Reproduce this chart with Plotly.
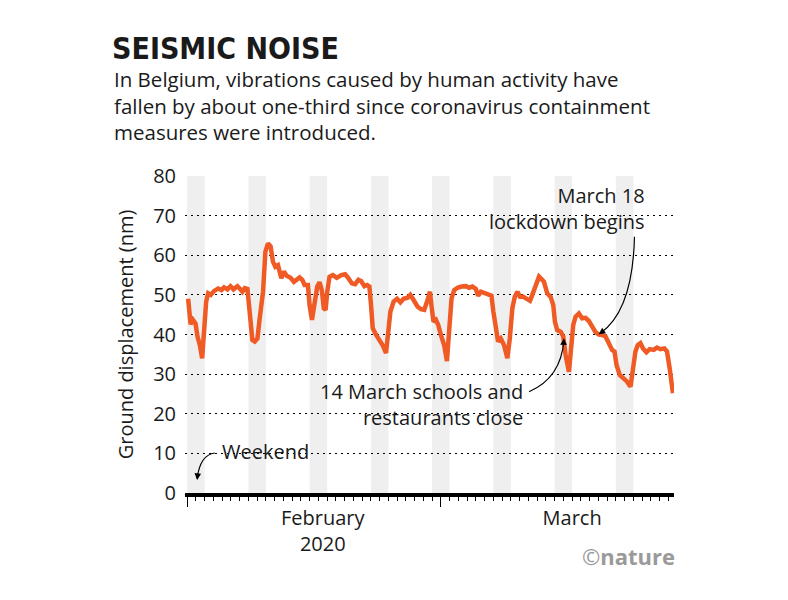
import plotly.graph_objects as go

# days since 1 February 2020
days = [0.11, 0.39, 0.65, 0.95, 1.18, 1.45, 1.71, 1.9, 2.17, 2.4, 2.7, 3.08, 3.54, 3.92, 4.22, 4.6, 4.95,
        5.29, 5.74, 6.05, 6.31, 6.58, 6.89, 7.07, 7.26, 7.45, 7.72, 8.03, 8.29, 8.67, 8.94, 9.24, 9.54,
        9.8, 10.08, 10.38, 10.76, 11.06, 11.37, 11.82, 12.2, 12.51, 12.85, 13.16, 13.42, 13.8, 13.99,
        14.26, 14.56, 14.87, 15.13, 15.39, 15.62, 15.82, 16.01, 16.27, 16.65, 17.1, 17.61, 18.06, 18.44,
        18.82, 19.2, 19.58, 19.88, 20.26, 20.57, 20.83, 21.02, 21.21, 21.6, 21.97, 22.35, 22.73, 22.92,
        23.23, 23.6, 23.99, 24.37, 24.74, 25.2, 25.51, 25.88, 26.34, 26.73, 27.1, 27.48, 27.75, 27.94,
        28.16, 28.44, 28.7, 29.0, 29.38, 29.69, 29.95, 30.22, 30.52, 30.9, 31.36, 31.86, 32.23, 32.61,
        33.0, 33.26, 33.57, 33.95, 34.33, 34.78, 35.0, 35.28, 35.54, 35.85, 36.23, 36.6, 36.88, 37.17,
        37.45, 37.75, 38.05, 38.43, 38.81, 39.19, 39.45, 39.84, 40.22, 40.59, 40.79, 41.16, 41.55, 41.85,
        42.04, 42.3, 42.69, 42.99, 43.26, 43.64, 43.9, 44.13, 44.4, 44.78, 45.15, 45.54, 45.92, 46.3,
        46.68, 47.06, 47.43, 47.82, 48.2, 48.58, 48.85, 49.08, 49.45, 49.91, 50.29, 50.68, 50.97, 51.24,
        51.5, 51.81, 52.11, 52.5, 52.87, 53.33, 53.71, 54.09, 54.55, 54.85, 55.15, 55.53]

displacement = [49.0, 42.6, 43.7, 42.8, 39.5, 37.3, 34.0, 39.9, 48.3, 50.4, 50.0, 51.0, 51.6, 51.2, 51.9, 51.4, 52.2,
                51.4, 52.2, 51.5, 50.8, 51.7, 51.5, 47.4, 42.4, 38.6, 38.2, 39.0, 44.1, 50.8, 60.9, 63.0, 62.2,
                58.4, 57.1, 57.5, 54.2, 55.9, 54.8, 54.3, 53.3, 54.0, 54.4, 53.8, 52.5, 52.5, 47.4,
                43.7, 48.7, 52.1, 53.2, 51.2, 46.6, 46.2, 50.8, 54.6, 55.0, 54.3, 55.0, 55.2, 54.2,
                52.9, 52.7, 53.8, 53.5, 52.2, 52.5, 52.1, 47.4, 41.6, 39.9, 38.6, 37.3, 35.3, 39.9,
                45.8, 48.3, 49.0, 48.1, 49.0, 49.3, 50.0, 48.7, 47.0, 46.4, 46.2, 48.7, 50.8, 47.0,
                43.2, 43.7, 42.4, 39.9, 37.3, 33.3, 39.9, 49.1, 51.2, 51.8, 52.1, 52.2, 51.8, 52.1,
                51.5, 49.8, 50.8, 50.4, 50.2, 49.8, 45.8, 40.7, 38.2, 39.0, 37.3, 34.0, 39.0, 46.6,
                49.5, 50.8, 49.5, 49.5, 49.0, 48.5, 50.0, 52.5, 54.6, 53.8, 53.3, 50.4, 49.5, 47.4,
                43.2, 41.1, 40.7, 39.5, 34.8, 30.6, 37.3, 42.4, 44.5, 45.3, 44.1, 44.2, 43.4, 42.0,
                40.6, 40.0, 39.9, 39.5, 37.8, 36.1, 35.7, 32.3, 29.8, 28.9, 28.1, 26.8, 31.5, 35.7,
                37.3, 37.8, 36.5, 35.5, 36.3, 36.1, 36.7, 36.3, 36.5, 35.7, 31.5, 25.2]

weekend_starts = [0, 7, 14, 21, 28, 35, 42, 49]
month_starts = [0, 29]
month_label_pos = [15.5, 44.0]
month_labels = ["February<br>2020", "March"]
y_ticks = [0, 10, 20, 30, 40, 50, 60, 70, 80]

FONT = "Open Sans, Lato, Noto Sans, sans-serif"
TXT = "#1a1a1a"
ORANGE = "#F05A24"

fig = go.Figure()

fig.add_trace(go.Scatter(x=days, y=displacement, mode="lines",
                         line=dict(color=ORANGE, width=4.5),
                         hoverinfo="skip", showlegend=False))
# invisible trace anchoring the month-label axis
fig.add_trace(go.Scatter(x=[0], y=[0], xaxis="x2", mode="markers",
                         marker=dict(opacity=0), hoverinfo="skip", showlegend=False))

shapes = []
# gaps in the dotted gridlines behind the labels (drawn first, under the weekend bands)
for (x0, x1, y0, y1) in [(2.93, 15.47, 9, 11), (18.8, 38.8, 19, 21), (32.2, 52.8, 69, 71)]:
    shapes.append(dict(type="rect", xref="x", yref="y", x0=x0, x1=x1, y0=y0, y1=y1,
                       fillcolor="white", line=dict(width=0), layer="below"))
for s in weekend_starts:
    shapes.append(dict(type="rect", xref="x", yref="y", x0=s, x1=s + 2, y0=0, y1=80,
                       fillcolor="#EFEFEF", line=dict(width=0), layer="below"))

# curved arrow lines
arrow_style = dict(color="black", width=1.2)
shapes.append(dict(type="path", xref="x", yref="y", path="M 3.16,10.1 Q 1.45,9.6 1.14,3.6",
                   line=arrow_style))
shapes.append(dict(type="path", xref="x", yref="y", path="M 39.08,25.56 Q 42.73,29.0 43.07,38.6",
                   line=arrow_style))
shapes.append(dict(type="path", xref="x", yref="y", path="M 51.13,64.68 Q 50.94,46.2 47.3,40.45",
                   line=arrow_style))

annotations = [
    dict(text="In Belgium, vibrations caused by human activity have<br>fallen by about one-third since coronavirus containment<br>measures were introduced.",
         xref="paper", yref="paper", x=-0.149, y=1.356, xanchor="left", yanchor="top",
         align="left", showarrow=False, font=dict(family=FONT, size=20.5, color=TXT)),
    dict(text="Weekend", xref="x", yref="y", x=3.75, y=10.4, xanchor="left", yanchor="middle",
         showarrow=False, font=dict(family=FONT, size=20, color=TXT)),
    dict(text="14 March schools and<br>restaurants close", xref="x", yref="y", x=38.6, y=22.3,
         xanchor="right", yanchor="middle", align="right", showarrow=False,
         font=dict(family=FONT, size=20, color=TXT)),
    dict(text="March 18<br>lockdown begins", xref="x", yref="y", x=52.55, y=71.9,
         xanchor="right", yanchor="middle", align="right", showarrow=False,
         font=dict(family=FONT, size=20, color=TXT)),
    dict(text="©<b>nature</b>", xref="paper", yref="paper", x=1.007, y=-0.2, xanchor="right",
         yanchor="middle", showarrow=False, font=dict(family=FONT, size=22, color="#9a9a9a")),
]
# arrowheads at the ends of the curved arrows
for (hx, hy, tx, ty) in [(1.14, 3.28, 1.2, 4.6), (43.07, 39.04, 43.02, 37.5), (47.04, 40.05, 47.63, 40.97)]:
    annotations.append(dict(text="", x=hx, y=hy, ax=tx, ay=ty, xref="x", yref="y", axref="x", ayref="y",
                            showarrow=True, arrowhead=2, arrowsize=1.1, arrowwidth=1.2, arrowcolor="black"))

fig.update_layout(
    width=788, height=600,
    margin=dict(l=185, r=114, t=176, b=107, autoexpand=False),
    paper_bgcolor="white", plot_bgcolor="white",
    title=dict(text="<b>SEISMIC NOISE</b>", xref="container", yref="container",
               x=112 / 788, xanchor="left", y=1 - 38 / 600, yanchor="top",
               font=dict(family="Liberation Sans Narrow, DejaVu Sans Condensed, sans-serif", size=30, color=TXT)),
    shapes=shapes, annotations=annotations,
    xaxis=dict(range=[-0.25, 55.65], showgrid=False, zeroline=False, automargin=False,
               showline=True, linewidth=4, linecolor="black",
               tickmode="array", tickvals=month_starts, ticktext=["", ""],
               ticks="outside", ticklen=10, tickwidth=1.2, tickcolor="black",
               minor=dict(dtick=1, tick0=0, ticks="outside", ticklen=4, tickwidth=1, tickcolor="black"),
               fixedrange=True),
    xaxis2=dict(range=[-0.25, 55.65], overlaying="x", anchor="y", side="bottom", automargin=False,
                showgrid=False, zeroline=False, showline=False,
                tickmode="array", tickvals=month_label_pos, ticktext=month_labels,
                ticks="", ticklabelstandoff=11,
                tickfont=dict(family=FONT, size=20, color=TXT)),
    yaxis=dict(range=[0, 80], tickmode="array", tickvals=y_ticks, ticks="", automargin=False,
               showgrid=True, gridcolor="black", gridwidth=1.3, griddash="1.5px,4.5px",
               zeroline=False, showline=False, ticklabelstandoff=8,
               tickfont=dict(family=FONT, size=20, color=TXT),
               title=dict(text="Ground displacement (nm)", standoff=14,
                          font=dict(family=FONT, size=20, color=TXT)),
               fixedrange=True),
)

fig.write_html("out.html", config={"displayModeBar": False},
               post_script="document.body.style.margin='0';")
